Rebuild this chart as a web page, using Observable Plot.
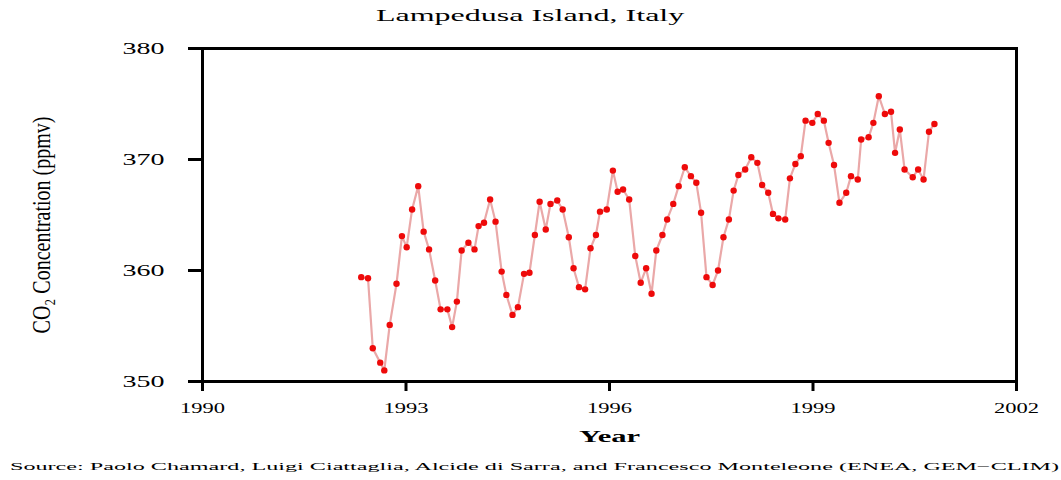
<!DOCTYPE html>
<html>
<head>
<meta charset="utf-8">
<script src="https://cdn.jsdelivr.net/npm/d3@7"></script>
<script src="https://cdn.jsdelivr.net/npm/@observablehq/plot@0.6"></script>
<style>
  html, body { margin: 0; padding: 0; background: #fff; }
  #wrap { position: relative; width: 1061px; height: 480px; overflow: hidden; font-family: 'Liberation Serif', 'Times New Roman', serif; }
  #title { position: absolute; top: 7px; left: 0; width: 1061px; text-align: center; font-size: 16px; }
  #title span { display: inline-block; transform: scaleX(2.0); }
  #caption { position: absolute; top: 461px; left: 10px; font-size: 10.5px; white-space: nowrap; transform: scaleX(2.3); transform-origin: left center; }
  #chart { position: absolute; top: 0; left: 0; }
</style>
</head>
<body>
<div id="wrap">
  <div id="chart"></div>
  <div id="title"><span>Lampedusa Island, Italy</span></div>
  <div id="caption">Source: Paolo Chamard, Luigi Ciattaglia, Alcide di Sarra, and Francesco Monteleone (ENEA, GEM−CLIM)</div>
</div>
<script>
const titleText = "Lampedusa Island, Italy";
const xLabel = "Year";
const yLabel = "CO₂ Concentration (ppmv)";
const xTicks = [1990, 1993, 1996, 1999, 2002];
const yTicks = [350, 360, 370, 380];

// decimal year of each sample
const years = [
  1992.34, 1992.44, 1992.51, 1992.62, 1992.68, 1992.76, 1992.86, 1992.94,
  1993.01, 1993.09, 1993.18, 1993.26, 1993.34, 1993.43, 1993.51, 1993.61,
  1993.68, 1993.75, 1993.82, 1993.92, 1994.01, 1994.07, 1994.15, 1994.24,
  1994.32, 1994.41, 1994.48, 1994.57, 1994.65, 1994.74, 1994.82, 1994.90,
  1994.97, 1995.06, 1995.13, 1995.23, 1995.31, 1995.40, 1995.47, 1995.55,
  1995.64, 1995.72, 1995.80, 1995.86, 1995.96, 1996.05, 1996.12, 1996.20,
  1996.29, 1996.38, 1996.46, 1996.54, 1996.62, 1996.69, 1996.78, 1996.85,
  1996.94, 1997.02, 1997.11, 1997.20, 1997.28, 1997.35, 1997.43, 1997.52,
  1997.60, 1997.68, 1997.76, 1997.83, 1997.90, 1998.00, 1998.09, 1998.18,
  1998.25, 1998.34, 1998.41, 1998.49, 1998.59, 1998.66, 1998.74, 1998.82,
  1998.89, 1998.99, 1999.07, 1999.16, 1999.23, 1999.31, 1999.39, 1999.49,
  1999.56, 1999.66, 1999.71, 1999.82, 1999.89, 1999.97, 2000.06, 2000.15,
  2000.21, 2000.28, 2000.35, 2000.47, 2000.55, 2000.63, 2000.71, 2000.79
];

// CO2 concentration (ppmv)
const co2 = [
  359.4, 359.3, 353.0, 351.7, 351.0, 355.1, 358.8, 363.1,
  362.1, 365.5, 367.6, 363.5, 361.9, 359.1, 356.5, 356.5,
  354.9, 357.2, 361.8, 362.5, 361.9, 364.0, 364.3, 366.4,
  364.4, 359.9, 357.8, 356.0, 356.7, 359.7, 359.8, 363.2,
  366.2, 363.7, 366.0, 366.3, 365.5, 363.0, 360.2, 358.5,
  358.3, 362.0, 363.2, 365.3, 365.5, 369.0, 367.1, 367.3,
  366.4, 361.3, 358.9, 360.2, 357.9, 361.8, 363.2, 364.6,
  366.0, 367.6, 369.3, 368.5, 367.9, 365.2, 359.4, 358.7,
  360.0, 363.0, 364.6, 367.2, 368.6, 369.1, 370.2, 369.7,
  367.7, 367.0, 365.1, 364.7, 364.6, 368.3, 369.6, 370.3,
  373.5, 373.3, 374.1, 373.5, 371.5, 369.5, 366.1, 367.0,
  368.5, 368.2, 371.8, 372.0, 373.3, 375.7, 374.1, 374.3,
  370.6, 372.7, 369.1, 368.4, 369.1, 368.2, 372.5, 373.2
];

const data = years.map((t, i) => ({ t, v: co2[i] }));

const chart = Plot.plot({
  width: 1061,
  height: 455,
  marginTop: 48,
  marginLeft: 202,
  marginRight: 45,
  marginBottom: 74,
  x: { domain: [1990, 2002] },
  y: { domain: [350, 380] },
  style: { fontFamily: "'Liberation Serif', 'Times New Roman', serif", fontSize: "15px", background: "transparent", color: "#000" },
  marks: [
    Plot.line(data, { x: "t", y: "v", stroke: "#eaa8a8", strokeWidth: 2.2 }),
    Plot.dot(data, { x: "t", y: "v", r: 3.2, fill: "#ee0a0a", stroke: "none" }),
    Plot.axisX({ ticks: xTicks, tickFormat: d => String(d), tickSize: 10, tickPadding: 11, strokeWidth: 3, label: null, fontSize: 15 }),
    Plot.axisY({ ticks: yTicks, tickSize: 14, tickPadding: 24, strokeWidth: 3, label: null, fontSize: 16 }),
    Plot.text([xLabel], { frameAnchor: "bottom", dy: 60, fontWeight: "bold", fontSize: 17, fill: "#000" }),
    Plot.text([yLabel], { frameAnchor: "left", textAnchor: "middle", dx: -161, dy: 10, rotate: -90, fontSize: 20, fill: "#000" }),
    Plot.frame({ stroke: "#000", strokeWidth: 3 })
  ]
});
document.getElementById("chart").appendChild(chart);

// stretch texts to mimic the widened source picture
d3.select(chart).selectAll("g[aria-label='x-axis tick label'] text")
  .attr("transform", function () { return (this.getAttribute("transform") || "") + " scale(1.5,1)"; });
d3.select(chart).selectAll("g[aria-label='y-axis tick label'] text")
  .attr("transform", function () { return (this.getAttribute("transform") || "") + " scale(1.75,1)"; });
d3.select(chart).selectAll("g[aria-label='text'] text")
  .filter(function () { return this.textContent === xLabel; })
  .attr("transform", function () { return (this.getAttribute("transform") || "") + " scale(1.8,1)"; });
d3.select(chart).selectAll("g[aria-label='text'] text")
  .filter(function () { return this.textContent === yLabel; })
  .attr("transform", function () { return (this.getAttribute("transform") || "") + " scale(1,1.3)"; });
</script>
</body>
</html>
